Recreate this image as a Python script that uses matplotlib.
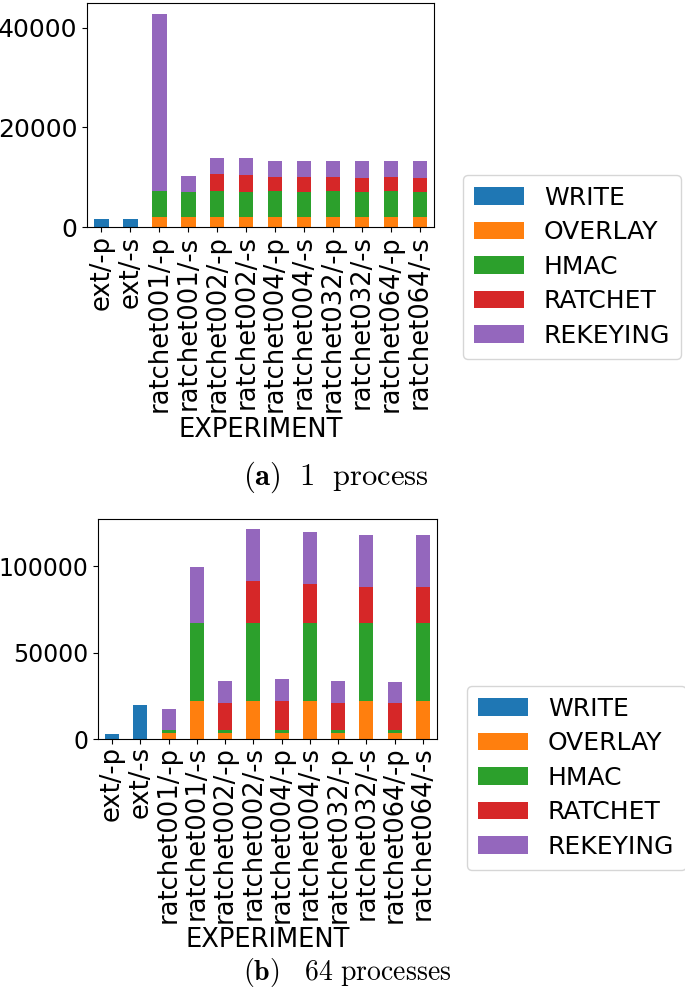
import matplotlib
matplotlib.use('Agg')
import matplotlib.pyplot as plt
import numpy as np

plt.rcParams['font.family'] = 'DejaVu Sans'
plt.rcParams['mathtext.fontset'] = 'cm'

experiments = ['ext/-p', 'ext/-s',
               'ratchet001/-p', 'ratchet001/-s', 'ratchet002/-p', 'ratchet002/-s',
               'ratchet004/-p', 'ratchet004/-s', 'ratchet032/-p', 'ratchet032/-s',
               'ratchet064/-p', 'ratchet064/-s']
phases = ['WRITE', 'OVERLAY', 'HMAC', 'RATCHET', 'REKEYING']
colors = ['#1f77b4', '#ff7f0e', '#2ca02c', '#d62728', '#9467bd']

# (a) 1 process -- per-phase amounts (not cumulative)
write_1 = [1700, 1700, 0, 0, 0, 0, 0, 0, 0, 0, 0, 0]
overlay_1 = [0, 0, 2100, 1950, 2100, 1950, 2100, 1950, 2100, 1950, 2100, 1950]
hmac_1 = [0, 0, 5200, 5050, 5200, 5100, 5200, 5100, 5200, 5100, 5200, 5100]
ratchet_1 = [0, 0, 0, 0, 3300, 3400, 2800, 3000, 2800, 2750, 2750, 2800]
rekey_1 = [0, 0, 35500, 3200, 3250, 3400, 3200, 3250, 3200, 3400, 3200, 3350]

# (b) 64 processes
write_64 = [2900, 19500, 0, 0, 0, 0, 0, 0, 0, 0, 0, 0]
overlay_64 = [0, 0, 3500, 22200, 3500, 22200, 3500, 22200, 3500, 22200, 3500, 22200]
hmac_64 = [0, 0, 1900, 44800, 1900, 44800, 1900, 44800, 1900, 44800, 1900, 44800]
ratchet_64 = [0, 0, 0, 0, 15250, 24300, 16800, 22500, 15400, 20800, 15250, 20800]
rekey_64 = [0, 0, 12160, 32800, 12750, 30100, 12300, 30300, 12800, 30100, 12550, 30300]

XFS = 18.5


def stacked(ax, series, yfs, xpad=2.5):
    x = np.arange(len(experiments))
    bottom = np.zeros(len(experiments))
    for vals, name, c in zip(series, phases, colors):
        ax.bar(x, vals, 0.5, bottom=bottom, color=c, label=name)
        bottom += np.array(vals)
    ax.set_xticks(x)
    ax.set_xticklabels(experiments, rotation=90)
    ax.set_xlim(-0.5, len(experiments) - 0.5)
    ax.set_xlabel('EXPERIMENT', fontsize=XFS, labelpad=3)
    ax.tick_params(axis='x', labelsize=XFS, pad=xpad)
    ax.tick_params(axis='y', labelsize=yfs)


fig = plt.figure(figsize=(6.85, 9.96), dpi=100)

ax1 = fig.add_axes([0.127, 0.772, 0.507, 0.225])
stacked(ax1, [write_1, overlay_1, hmac_1, ratchet_1, rekey_1], 18)
ax1.set_yticks([0, 20000, 40000])
h, l = ax1.get_legend_handles_labels()
fig.legend(h, l, loc='center left', bbox_to_anchor=(0.657, 0.732), fontsize=18,
           handlelength=2.0, labelspacing=0.42, borderpad=0.45)
fig.text(0.355, 0.521, r'$\mathbf{(a)}\ \ \mathrm{1\ \ process}$', ha='left', va='center',
         fontsize=22)

ax2 = fig.add_axes([0.143, 0.258, 0.495, 0.221])
stacked(ax2, [write_64, overlay_64, hmac_64, ratchet_64, rekey_64], 17, xpad=1.5)
ax2.set_yticks([0, 50000, 100000])
h, l = ax2.get_legend_handles_labels()
fig.legend(h, l, loc='center left', bbox_to_anchor=(0.663, 0.219), fontsize=18,
           handlelength=2.0, labelspacing=0.42, borderpad=0.45)
fig.text(0.355, 0.024, r'$\mathbf{(b)}\ \ \ \mathrm{64\ processes}$', ha='left', va='center',
         fontsize=20)

fig.savefig('out.png', dpi=100)
